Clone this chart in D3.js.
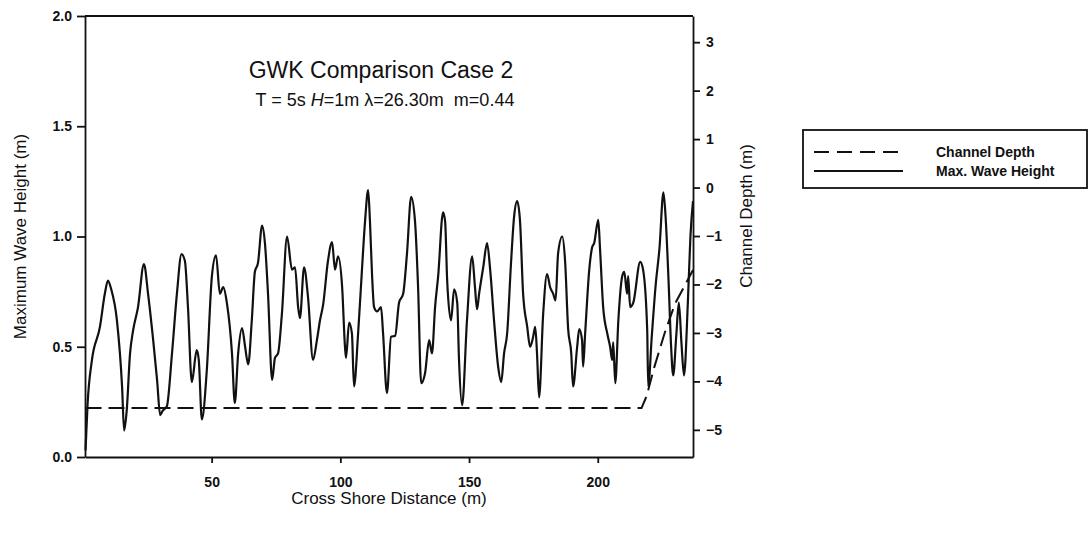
<!DOCTYPE html>
<html>
<head>
<meta charset="utf-8">
<script src="https://cdn.jsdelivr.net/npm/d3@7"></script>
<style>
  body { margin: 0; background: #fff; }
  text { font-family: "Liberation Sans", Arial, sans-serif; fill: #111; }
  .tick text { font-weight: bold; font-size: 14px; }
  .domain, .tick line { stroke: #111; stroke-width: 1.8; }
</style>
</head>
<body>
<div id="chart"></div>
<script>
// DATA
var distance = [1, 1.8, 3.5, 6.6, 8.5, 9.7, 11, 13.2, 15.2, 16, 17, 18.3, 19.5, 21.4, 23.7, 25.3, 27.2, 28.8, 30, 31, 32.6,
  34.6, 36.5, 38.3, 39.6, 40.8, 42.3, 44.2, 45, 46.2, 48.1, 50.1, 51.7, 53.2, 54.5, 55.9, 57.9, 59, 60.3, 61.8, 63, 64.2,
  65.6, 66.8, 68, 69.6, 70.7, 71.9, 73.5, 74.6, 75.8, 77.3, 79.3, 81.2, 82.4, 83.6, 84.3, 85.9, 87.4, 89.4, 90.9, 92.1,
  93.3, 95.2, 96.8, 97.9, 99.1, 100.7, 101.8, 102.2, 103.4, 104.5, 105.3, 106.9, 108.4, 109.6, 110.8, 111.5, 112.3, 113.1,
  114.3, 115.8, 116.6, 118.1, 119.7, 121.3, 122.8, 124.4, 125.9, 127.5, 129, 130.2, 131.4, 132.9, 134.5, 135.6, 136.8, 138,
  139.9, 140.7, 141.5, 143, 144.2, 145.4, 146.1, 147.3, 149.2, 151.2, 152.3, 153.1, 153.9, 155.5, 157, 158.2, 159.7, 161.3,
  162.5, 163.6, 164.8, 166.3, 167.5, 168.7, 169.8, 171, 172.6, 173.7, 174.9, 175.7, 176.4, 177.2, 178.8, 180.3, 181.5,
  182.7, 183.6, 184.6, 186.2, 187.3, 188.5, 189.7, 190.4, 192, 192.8, 193.9, 194.3, 195.1, 196.7, 197.8, 198.6, 200.2,
  200.9, 202.1, 203.7, 204.8, 205.6, 206, 206.8, 208, 209.5, 210.3, 211.4, 211.8, 212.6, 213.8, 216.5, 217.6, 219.2, 219.6,
  221, 222.5, 224, 225.5, 226.3, 227.5, 228.5, 229.3, 230.5, 231.5, 232.5, 233.5, 235, 236, 237];
var waveHeight = [0.03, 0.24, 0.44, 0.59, 0.74, 0.8, 0.76, 0.62, 0.32, 0.12, 0.21, 0.47, 0.575, 0.68, 0.875, 0.74, 0.54, 0.35, 0.19, 0.21, 0.23,
  0.47, 0.74, 0.92, 0.89, 0.68, 0.34, 0.485, 0.44, 0.17, 0.39, 0.82, 0.915, 0.74, 0.77, 0.70, 0.47, 0.245, 0.47, 0.585, 0.50, 0.42,
  0.62, 0.84, 0.88, 1.05, 0.97, 0.74, 0.35, 0.45, 0.47, 0.65, 1.0, 0.85, 0.86, 0.68, 0.63, 0.86, 0.73, 0.44, 0.53, 0.62,
  0.69, 0.89, 0.975, 0.85, 0.91, 0.77, 0.50, 0.45, 0.61, 0.56, 0.32, 0.56, 0.85, 1.07, 1.21, 1.07, 0.83, 0.68,
  0.66, 0.68, 0.56, 0.29, 0.545, 0.55, 0.70, 0.74, 0.925, 1.18, 1.07, 0.77, 0.335, 0.38, 0.53, 0.47, 0.68, 0.82,
  1.11, 1.07, 0.80, 0.62, 0.76, 0.70, 0.44, 0.235, 0.62, 0.91, 0.77, 0.67, 0.74, 0.86, 0.97, 0.85, 0.62, 0.41,
  0.34, 0.47, 0.56, 0.88, 1.09, 1.16, 1.07, 0.74, 0.59, 0.50, 0.545, 0.59, 0.47, 0.27, 0.65, 0.83, 0.77,
  0.74, 0.71, 0.925, 1.0, 0.89, 0.58, 0.47, 0.32, 0.50, 0.58, 0.53, 0.41, 0.56, 0.85, 0.95, 0.97, 1.075,
  0.94, 0.68, 0.56, 0.50, 0.44, 0.52, 0.335, 0.62, 0.82, 0.84, 0.74, 0.82, 0.68, 0.70, 0.885, 0.85, 0.58, 0.32,
  0.55, 0.78, 0.95, 1.2, 1.1, 0.8, 0.5, 0.37, 0.55, 0.7, 0.52, 0.37, 0.7, 1.0, 1.16];

var depthDistance = [1, 217, 219, 222, 226, 230, 234, 237];
var channelDepth = [-4.55, -4.55, -4.3, -3.7, -3.0, -2.4, -2.0, -1.7];

var xTicks = [50, 100, 150, 200];
var leftTicks = [0, 0.5, 1.0, 1.5, 2.0];
var rightTicks = [-5, -4, -3, -2, -1, 0, 1, 2, 3];

// set the dimensions and margins of the graph
var margin = {top: 16, right: 396, bottom: 77, left: 85},
    width = 1089 - margin.left - margin.right,
    height = 534 - margin.top - margin.bottom;

var svg = d3.select("#chart").append("svg")
    .attr("width", 1089)
    .attr("height", 534);

var g = svg.append("g")
    .attr("transform", "translate(" + margin.left + "," + margin.top + ")");

// scales
var x = d3.scaleLinear().domain([0.8, 237]).range([0, width]);
var yLeft = d3.scaleLinear().domain([0, 2]).range([height, 0]);
var yRight = d3.scaleLinear().domain([-5.56, 3.54]).range([height, 0]);

// frame top
g.append("line")
    .attr("x1", 0).attr("x2", width)
    .attr("y1", 0).attr("y2", 0)
    .style("stroke", "#111").style("stroke-width", 1.8);

// axes
g.append("g")
    .attr("transform", "translate(0," + height + ")")
    .call(d3.axisBottom(x).tickValues(xTicks).tickSize(6).tickSizeOuter(0).tickPadding(14));

g.append("g")
    .call(d3.axisLeft(yLeft).tickValues(leftTicks).tickFormat(d3.format(".1f")).tickSize(8).tickSizeOuter(0).tickPadding(5));

g.append("g")
    .attr("transform", "translate(" + width + ",0)")
    .call(d3.axisRight(yRight).tickValues(rightTicks).tickSize(7).tickSizeOuter(0).tickPadding(6));

// lines
var depthData = depthDistance.map(function(d, i) { return {x: d, y: channelDepth[i]}; });
var waveData = distance.map(function(d, i) { return {x: d, y: waveHeight[i]}; });

g.append("path")
    .datum(depthData)
    .attr("d", d3.line().x(function(d) { return x(d.x); }).y(function(d) { return yRight(d.y); }))
    .style("fill", "none")
    .style("stroke", "#111")
    .style("stroke-width", 2)
    .style("stroke-dasharray", "16,7");

g.append("path")
    .datum(waveData)
    .attr("d", d3.line().curve(d3.curveMonotoneX).x(function(d) { return x(d.x); }).y(function(d) { return yLeft(d.y); }))
    .style("fill", "none")
    .style("stroke", "#111")
    .style("stroke-width", 2.2)
    .style("stroke-linejoin", "round");

// titles
g.append("text")
    .attr("x", width / 2 - 8)
    .attr("y", 62)
    .attr("text-anchor", "middle")
    .style("font-size", "23px")
    .text("GWK Comparison Case 2");

var sub = g.append("text")
    .attr("x", width / 2 - 4)
    .attr("y", 90)
    .attr("text-anchor", "middle")
    .attr("xml:space", "preserve")
    .style("font-size", "18px");
sub.append("tspan").text("T = 5s ");
sub.append("tspan").style("font-style", "italic").text("H");
sub.append("tspan").text("=1m \u03bb=26.30m  m=0.44");

svg.append("text")
    .attr("transform", "translate(26," + (margin.top + height / 2) + ") rotate(-90)")
    .attr("text-anchor", "middle")
    .style("font-size", "17px")
    .text("Maximum Wave Height (m)");

svg.append("text")
    .attr("x", margin.left + width / 2)
    .attr("y", 504)
    .attr("text-anchor", "middle")
    .style("font-size", "17px")
    .text("Cross Shore Distance (m)");

svg.append("text")
    .attr("transform", "translate(752," + 216 + ") rotate(-90)")
    .attr("text-anchor", "middle")
    .style("font-size", "17px")
    .text("Channel Depth (m)");

// legend
var legend = svg.append("g").attr("transform", "translate(803,130)");
legend.append("rect")
    .attr("width", 284).attr("height", 58)
    .style("fill", "none").style("stroke", "#111").style("stroke-width", 1.8);
legend.append("line")
    .attr("x1", 11).attr("x2", 100).attr("y1", 22).attr("y2", 22)
    .style("stroke", "#111").style("stroke-width", 2).style("stroke-dasharray", "15,8");
legend.append("line")
    .attr("x1", 11).attr("x2", 100).attr("y1", 41).attr("y2", 41)
    .style("stroke", "#111").style("stroke-width", 2);
legend.append("text")
    .attr("x", 133).attr("y", 27)
    .style("font-size", "14px").style("font-weight", "bold")
    .text("Channel Depth");
legend.append("text")
    .attr("x", 133).attr("y", 46)
    .style("font-size", "14px").style("font-weight", "bold")
    .text("Max. Wave Height");
</script>
</body>
</html>
